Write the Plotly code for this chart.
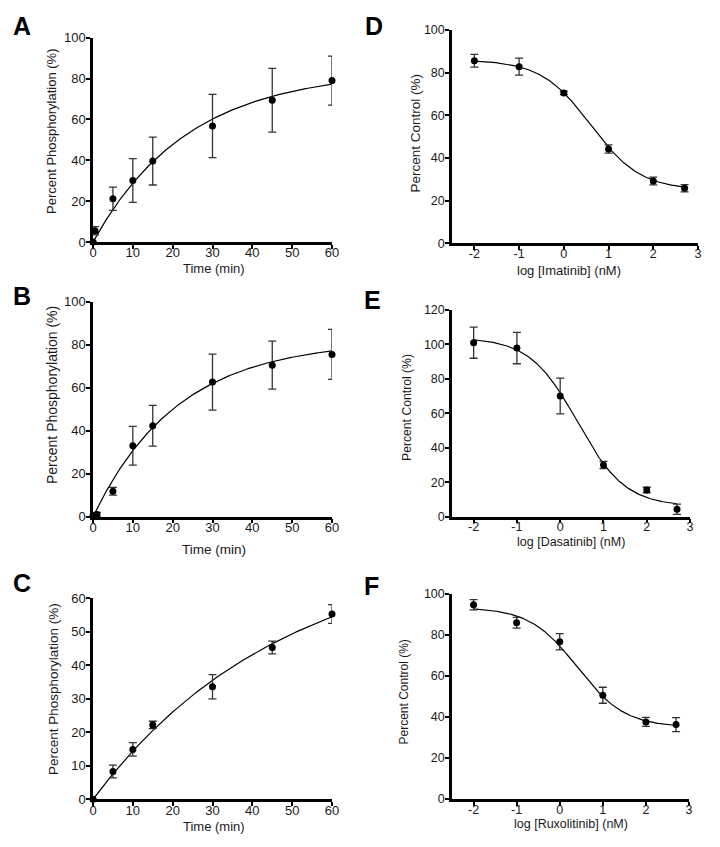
import numpy as np
import plotly.graph_objects as go

W, H = 720, 847

# ---------------- data ----------------
# Panels A-C: time course
A_time = [0, 0.5, 5, 10, 15, 30, 45, 60]
A_val = [0, 5.5, 21.2, 30.1, 39.6, 56.8, 69.4, 79.0]
A_err = [0, 2.0, 5.7, 10.7, 11.7, 15.5, 15.6, 12.0]
A_fit = dict(ymax=84.0, k=0.042)

B_time = [0, 1, 5, 10, 15, 30, 45, 60]
B_val = [0.5, 1.0, 11.8, 33.0, 42.3, 62.6, 70.5, 75.5]
B_err = [0.8, 1.0, 1.8, 9.0, 9.5, 13.0, 11.2, 11.6]
B_fit = dict(ymax=82.0, k=0.047)

C_time = [0, 5, 10, 15, 30, 45, 60]
C_val = [0, 8.3, 14.9, 22.2, 33.6, 45.3, 55.3]
C_err = [0, 1.9, 2.0, 1.1, 3.6, 1.9, 2.8]
C_fit = dict(ymax=76.0, k=0.021)

# Panels D-F: dose response (log nM)
log_conc = [-2, -1, 0, 1, 2, 2.7]
D_val = [85.6, 82.8, 70.5, 44.2, 29.2, 25.8]
D_err = [3.0, 4.0, 0.8, 1.9, 1.8, 1.7]
D_fit = dict(top=86.0, bottom=25.0, logic50=0.6, hill=0.78)

E_val = [101.0, 97.9, 70.1, 30.0, 15.5, 4.3]
E_err = [9.0, 9.1, 10.4, 2.1, 1.6, 3.0]
E_fit = dict(top=104.0, bottom=6.0, logic50=0.4, hill=0.786)

F_val = [94.8, 86.0, 76.7, 50.6, 37.6, 36.3]
F_err = [2.5, 2.6, 4.0, 3.9, 2.2, 3.4]
F_fit = dict(top=93.5, bottom=35.0, logic50=0.408, hill=0.787)

time_ticks = [0, 10, 20, 30, 40, 50, 60]
log_ticks = [-2, -1, 0, 1, 2, 3]
log_tick_labels = ["-2", "-1", "0", "1", "2", "3"]

panels = [
    dict(letter="A", x=A_time, y=A_val, e=A_err, fit=A_fit, kind="assoc",
         xr=[0, 60], yr=[0, 100], yt=list(range(0, 101, 20)), xt=time_ticks, xtl=None,
         xtitle="Time (min)", ytitle="Percent Phosphorylation (%)",
         dom_px=(93, 332, 37.7, 242), tickfs=13,
         ytpos=(52, 131, 13), xtpos=(214, 268, 13), lpos=(22, 24)),
    dict(letter="B", x=B_time, y=B_val, e=B_err, fit=B_fit, kind="assoc",
         xr=[0, 60], yr=[0, 100], yt=list(range(0, 101, 20)), xt=time_ticks, xtl=None,
         xtitle="Time (min)", ytitle="Percent Phosphorylation (%)",
         dom_px=(93, 332, 301.7, 516.7), tickfs=13,
         ytpos=(52, 395, 14), xtpos=(214, 549, 13.5), lpos=(22, 294)),
    dict(letter="C", x=C_time, y=C_val, e=C_err, fit=C_fit, kind="assoc",
         xr=[0, 60], yr=[0, 60], yt=list(range(0, 61, 10)), xt=time_ticks, xtl=None,
         xtitle="Time (min)", ytitle="Percent Phosphorylation (%)",
         dom_px=(93, 332, 598.3, 799.3), tickfs=13,
         ytpos=(53, 689, 13.5), xtpos=(214, 826, 13), lpos=(22, 581)),
    dict(letter="D", x=log_conc, y=D_val, e=D_err, fit=D_fit, kind="dose",
         xr=[-2.5, 3], yr=[0, 100], yt=list(range(0, 101, 20)), xt=log_ticks, xtl=log_tick_labels,
         xtitle="log [Imatinib] (nM)", ytitle="Percent Control (%)",
         dom_px=(452, 698, 30, 243.3), tickfs=12.5,
         ytpos=(415, 132.5, 13.5), xtpos=(568.5, 270, 13), lpos=(374, 24)),
    dict(letter="E", x=log_conc, y=E_val, e=E_err, fit=E_fit, kind="dose",
         xr=[-2.5, 3], yr=[0, 120], yt=list(range(0, 121, 20)), xt=log_ticks, xtl=log_tick_labels,
         xtitle="log [Dasatinib] (nM)", ytitle="Percent Control (%)",
         dom_px=(452, 690, 310, 516.7), tickfs=12.5,
         ytpos=(407, 408, 12.2), xtpos=(570.5, 542, 12.5), lpos=(372.5, 298)),
    dict(letter="F", x=log_conc, y=F_val, e=F_err, fit=F_fit, kind="dose",
         xr=[-2.5, 3], yr=[0, 100], yt=list(range(0, 101, 20)), xt=log_ticks, xtl=log_tick_labels,
         xtitle="log [Ruxolitinib] (nM)", ytitle="Percent Control (%)",
         dom_px=(452, 689, 594, 799), tickfs=12.5,
         ytpos=(403, 692.5, 12), xtpos=(571, 824, 12.5), lpos=(371.5, 584)),
]

FONT = "Liberation Sans, Arial, sans-serif"
TXT = "#1a1a1a"
fig = go.Figure()
layout = dict(template="none", width=W, height=H, autosize=False,
              margin=dict(l=0, r=0, t=0, b=0, pad=0, autoexpand=False),
              paper_bgcolor="white", plot_bgcolor="white", showlegend=False,
              font=dict(family=FONT, color=TXT))
annotations = []

for i, p in enumerate(panels, start=1):
    xa = "x" if i == 1 else f"x{i}"
    ya = "y" if i == 1 else f"y{i}"
    x0, x1, y0, y1 = p["dom_px"]
    common = dict(showline=True, linewidth=2.5, linecolor="black", ticks="outside",
                  ticklen=4, tickwidth=2, tickcolor="black", showgrid=False,
                  zeroline=False, mirror=False, automargin=False,
                  tickfont=dict(family=FONT, size=p["tickfs"], color=TXT))
    xaxis = dict(domain=[x0 / W, x1 / W], range=p["xr"], tickvals=p["xt"],
                 anchor=ya, ticklabelstandoff=-7, **common)
    if p["xtl"] is not None:
        xaxis["ticktext"] = p["xtl"]
    layout["xaxis" if i == 1 else f"xaxis{i}"] = xaxis
    layout["yaxis" if i == 1 else f"yaxis{i}"] = dict(
        domain=[1 - y1 / H, 1 - y0 / H], range=p["yr"], tickvals=p["yt"],
        anchor=xa, ticklabelstandoff=-2, **common)

    # fitted curve
    f = p["fit"]
    if p["kind"] == "assoc":
        xs = np.linspace(0, max(p["x"]), 300)
        ys = f["ymax"] * (1 - np.exp(-f["k"] * xs))
    else:
        xs = np.linspace(min(p["x"]), max(p["x"]), 300)
        ys = f["bottom"] + (f["top"] - f["bottom"]) / (1 + 10 ** ((xs - f["logic50"]) * f["hill"]))
    fig.add_trace(go.Scatter(x=xs, y=ys, mode="lines", xaxis=xa, yaxis=ya,
                             line=dict(color="black", width=1.2),
                             hoverinfo="skip", cliponaxis=False))
    # data points with error bars
    fig.add_trace(go.Scatter(x=p["x"], y=p["y"], mode="markers", xaxis=xa, yaxis=ya,
                             marker=dict(color="black", size=7, symbol="circle"),
                             error_y=dict(type="data", array=p["e"], visible=True,
                                          color="#333333", thickness=1.3, width=4),
                             cliponaxis=False))

    # axis titles
    tx, ty, tfs = p["ytpos"]
    annotations.append(dict(text=p["ytitle"], x=tx / W, y=1 - ty / H, xref="paper", yref="paper",
                            textangle=-90, showarrow=False, xanchor="center", yanchor="middle",
                            font=dict(family=FONT, size=tfs, color=TXT)))
    tx, ty, tfs = p["xtpos"]
    annotations.append(dict(text=p["xtitle"], x=tx / W, y=1 - ty / H, xref="paper", yref="paper",
                            showarrow=False, xanchor="center", yanchor="middle",
                            font=dict(family=FONT, size=tfs, color=TXT)))
    # panel letter
    lx, ly = p["lpos"]
    annotations.append(dict(text=f"<b>{p['letter']}</b>", x=lx / W, y=1 - (ly + 2) / H,
                            xref="paper", yref="paper", showarrow=False,
                            xanchor="center", yanchor="middle",
                            font=dict(family=FONT, size=25, color="black")))

layout["annotations"] = annotations
fig.update_layout(**layout)
fig.write_html("out.html", config={"displayModeBar": False},
               post_script="document.body.style.margin='0px';document.body.style.padding='0px';")
